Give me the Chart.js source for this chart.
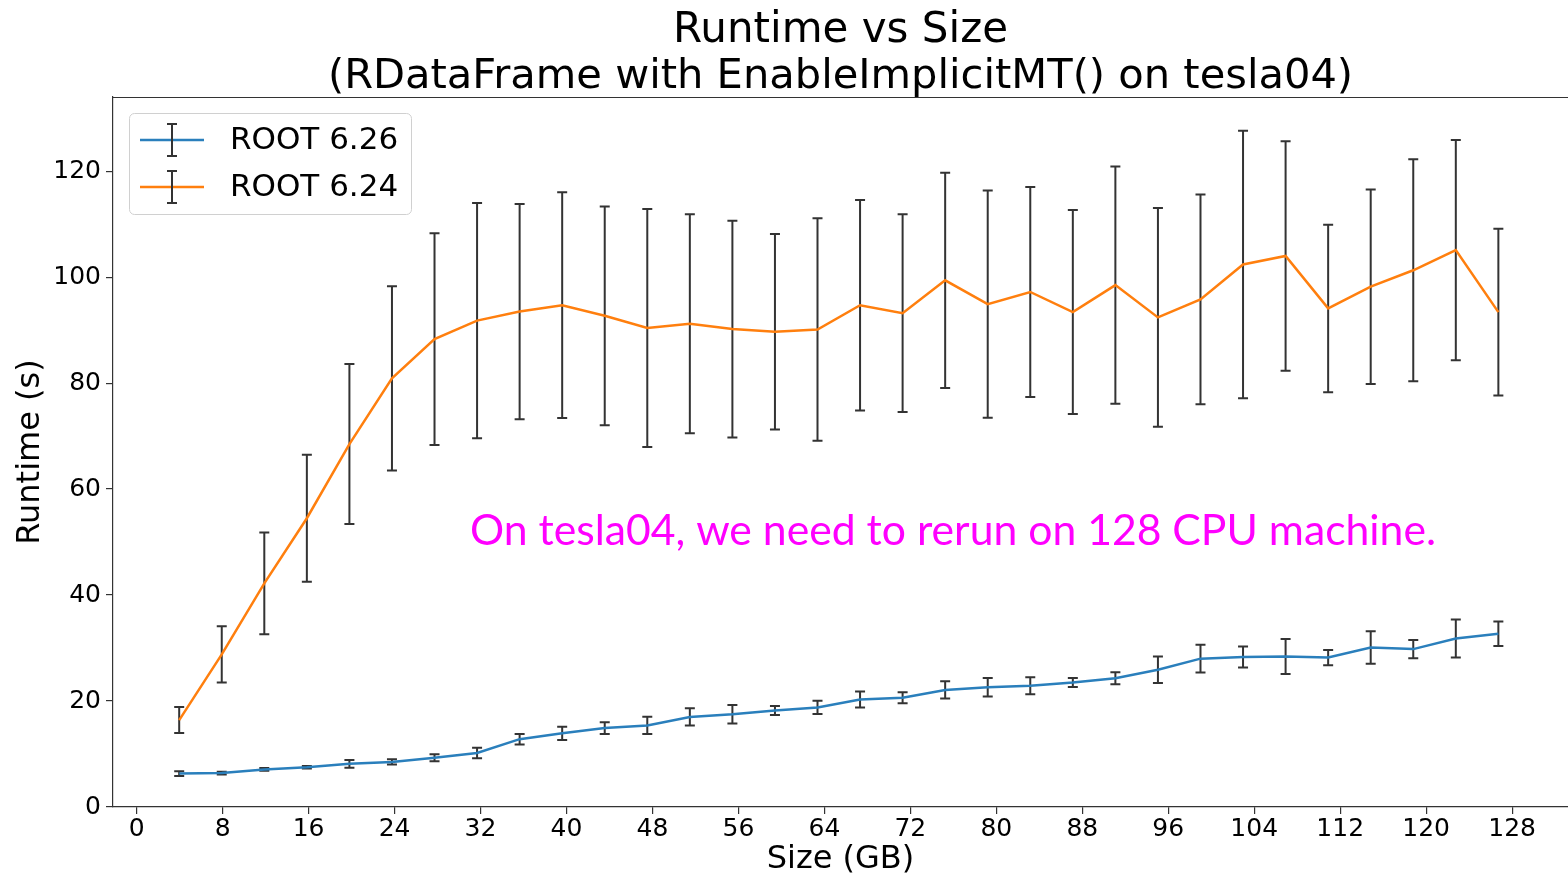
<!DOCTYPE html>
<html>
<head>
<meta charset="utf-8">
<title>Runtime vs Size</title>
<script src="https://cdn.jsdelivr.net/npm/chart.js@4.4.1/dist/chart.umd.min.js"></script>
<style>
    html, body { margin: 0; padding: 0; background: #fff; }
    #wrap { width: 1568px; height: 877px; }
</style>
</head>
<body>
<div id="wrap"><canvas id="runtime-size" width="1568" height="877"></canvas></div>
<script>
    "use strict";

    // Data
    const sizeGB = [3.96, 7.92, 11.88, 15.84, 19.8, 23.76, 27.72, 31.68, 35.64, 39.6,
        43.56, 47.52, 51.48, 55.44, 59.4, 63.36, 67.32, 71.28, 75.24, 79.2,
        83.16, 87.12, 91.08, 95.04, 99.0, 102.96, 106.92, 110.88, 114.84, 118.8,
        122.76, 126.72];

    const root626 = [6.3, 6.4, 7.1, 7.5, 8.15, 8.5, 9.3, 10.2, 12.8, 13.9,
        14.9, 15.4, 17.0, 17.5, 18.2, 18.8, 20.3, 20.6, 22.1, 22.6,
        22.9, 23.5, 24.3, 25.9, 28.0, 28.3, 28.4, 28.2, 30.1, 29.8,
        31.8, 32.7];
    const err626 = [0.45, 0.25, 0.25, 0.25, 0.72, 0.5, 0.66, 0.98, 1.0, 1.25,
        1.1, 1.64, 1.64, 1.73, 0.85, 1.26, 1.51, 1.04, 1.64, 1.73,
        1.6, 0.85, 1.13, 2.49, 2.61, 1.98, 3.3, 1.45, 3.08, 1.73,
        3.59, 2.33];

    const root624 = [16.4, 28.8, 42.2, 54.5, 68.5, 80.9, 88.3, 91.8, 93.5, 94.7,
        92.7, 90.4, 91.2, 90.2, 89.7, 90.1, 94.7, 93.2, 99.4, 94.9,
        97.2, 93.4, 98.5, 92.4, 95.8, 102.4, 104.0, 94.1, 98.2, 101.3,
        105.1, 93.4];
    const err624 = [2.45, 5.3, 9.6, 12.0, 15.1, 17.4, 20.0, 22.2, 20.3, 21.3,
        20.65, 22.45, 20.65, 20.45, 18.45, 21.0, 19.85, 18.65, 20.3, 21.45,
        19.8, 19.25, 22.4, 20.65, 19.8, 25.25, 21.65, 15.8, 18.35, 20.95,
        20.8, 15.75];

    const xTicks = [0, 8, 16, 24, 32, 40, 48, 56, 64, 72, 80, 88, 96, 104, 112, 120, 128];
    const yTicks = [0, 20, 40, 60, 80, 100, 120];

    const seriesNames = ['ROOT 6.26', 'ROOT 6.24'];
    const seriesColors = ['#2a7fbc', '#ff7f0e'];
    const seriesValues = [root626, root624];
    const seriesErrors = [err626, err624];

    const titleLines = ['Runtime vs Size', '(RDataFrame with EnableImplicitMT() on tesla04)'];
    const noteText = 'On tesla04, we need to rerun on 128 CPU machine.';

    const FONT = "'DejaVu Sans', sans-serif";
    const SPINE = '#333';


    // Error bars, drawn under the lines
    const errorBars = {
        id: 'errorBars',
        beforeDatasetsDraw: function (chart) {
            const ctx = chart.ctx;
            const xs = chart.scales.x, ys = chart.scales.y;
            ctx.save();
            ctx.strokeStyle = '#333';
            ctx.lineWidth = 2;
            for (let s = 0; s < seriesValues.length; s++) {
                for (let i = 0; i < sizeGB.length; i++) {
                    const px = xs.getPixelForValue(sizeGB[i]);
                    const top = ys.getPixelForValue(seriesValues[s][i] + seriesErrors[s][i]);
                    const bot = ys.getPixelForValue(seriesValues[s][i] - seriesErrors[s][i]);
                    ctx.beginPath();
                    ctx.moveTo(px, top); ctx.lineTo(px, bot);
                    ctx.moveTo(px - 5, top); ctx.lineTo(px + 5, top);
                    ctx.moveTo(px - 5, bot); ctx.lineTo(px + 5, bot);
                    ctx.stroke();
                }
            }
            ctx.restore();
        }
    };


    // Title, top spine, legend and the note
    const decorations = {
        id: 'decorations',
        afterDraw: function (chart) {
            const ctx = chart.ctx;
            const area = chart.chartArea;
            ctx.save();

            // top spine
            ctx.strokeStyle = SPINE;
            ctx.lineWidth = 1.2;
            ctx.beginPath();
            ctx.moveTo(area.left, area.top + 0.5);
            ctx.lineTo(area.right, area.top + 0.5);
            ctx.stroke();

            // title
            ctx.fillStyle = '#000';
            ctx.textAlign = 'center';
            ctx.textBaseline = 'alphabetic';
            ctx.font = '42px ' + FONT;
            const cx = (area.left + area.right) / 2;
            ctx.fillText(titleLines[0], cx, 42);
            ctx.font = '41.6px ' + FONT;
            ctx.fillText(titleLines[1], cx, 88);

            // legend
            ctx.beginPath();
            ctx.roundRect(129.5, 113.5, 282, 101, 5);
            ctx.fillStyle = 'rgba(255,255,255,0.8)';
            ctx.fill();
            ctx.strokeStyle = '#d0d0d0';
            ctx.lineWidth = 1;
            ctx.stroke();
            const rows = [140, 187];
            for (let s = 0; s < seriesNames.length; s++) {
                const y = rows[s];
                ctx.strokeStyle = seriesColors[s];
                ctx.lineWidth = 2.5;
                ctx.beginPath();
                ctx.moveTo(140, y); ctx.lineTo(204, y);
                ctx.stroke();
                ctx.strokeStyle = '#333';
                ctx.lineWidth = 2;
                ctx.beginPath();
                ctx.moveTo(172, y - 16); ctx.lineTo(172, y + 16);
                ctx.moveTo(167, y - 16); ctx.lineTo(177, y - 16);
                ctx.moveTo(167, y + 16); ctx.lineTo(177, y + 16);
                ctx.stroke();
                ctx.fillStyle = '#000';
                ctx.textAlign = 'left';
                ctx.textBaseline = 'middle';
                ctx.font = '31px ' + FONT;
                ctx.fillText(seriesNames[s], 230, y + 1);
            }

            // note, sized to its width in the original
            ctx.font = '40px Lato, sans-serif';
            const w = ctx.measureText(noteText).width;
            const size = 40 * 967 / w;
            ctx.font = size.toFixed(1) + 'px Lato, sans-serif';
            ctx.fillStyle = '#ff00ff';
            ctx.textAlign = 'left';
            ctx.textBaseline = 'alphabetic';
            ctx.fillText(noteText, 470, 545);

            ctx.restore();
        }
    };


    const datasets = [];
    for (let s = 0; s < seriesNames.length; s++) {
        datasets.push({
            label: seriesNames[s],
            data: sizeGB.map(function (x, i) { return { x: x, y: seriesValues[s][i] }; }),
            borderColor: seriesColors[s],
            backgroundColor: seriesColors[s],
            borderWidth: 2.5,
            pointRadius: 0,
            tension: 0,
            fill: false
        });
    }

    const tickFont = { family: FONT, size: 25 };
    const titleFont = { family: FONT, size: 32 };

    const ctx = document.getElementById('runtime-size');
    const myChart = new Chart(ctx, {
        type: 'line',
        data: { datasets: datasets },
        options: {
            responsive: false,
            animation: false,
            layout: { padding: { top: 97, left: 0, right: 0, bottom: 0 } },
            plugins: {
                legend: { display: false },
                title: { display: false },
                tooltip: { enabled: false }
            },
            scales: {
                x: {
                    type: 'linear',
                    min: -2.2,
                    max: 133.2,
                    afterBuildTicks: function (scale) {
                        scale.ticks = xTicks.map(function (v) { return { value: v }; });
                    },
                    afterFit: function (scale) { scale.height = 70; },
                    ticks: { font: tickFont, color: '#000', padding: 0, maxRotation: 0, autoSkip: false },
                    grid: { drawOnChartArea: false, drawTicks: true, tickLength: 7, color: SPINE, lineWidth: 1.2 },
                    border: { display: true, color: SPINE, width: 1.2 },
                    title: { display: true, text: 'Size (GB)', font: titleFont, color: '#000', padding: { top: 0, bottom: -2 } }
                },
                y: {
                    type: 'linear',
                    min: 0,
                    max: 134,
                    afterBuildTicks: function (scale) {
                        scale.ticks = yTicks.map(function (v) { return { value: v }; });
                    },
                    afterFit: function (scale) { scale.width = 113; },
                    ticks: { font: tickFont, color: '#000', padding: 5 },
                    grid: { drawOnChartArea: false, drawTicks: true, tickLength: 7, color: SPINE, lineWidth: 1.2 },
                    border: { display: true, color: SPINE, width: 1.2 },
                    title: { display: true, text: 'Runtime (s)', font: titleFont, color: '#000', padding: { top: 11, bottom: 0 } }
                }
            }
        },
        plugins: [errorBars, decorations]
    });
</script>
</body>
</html>
